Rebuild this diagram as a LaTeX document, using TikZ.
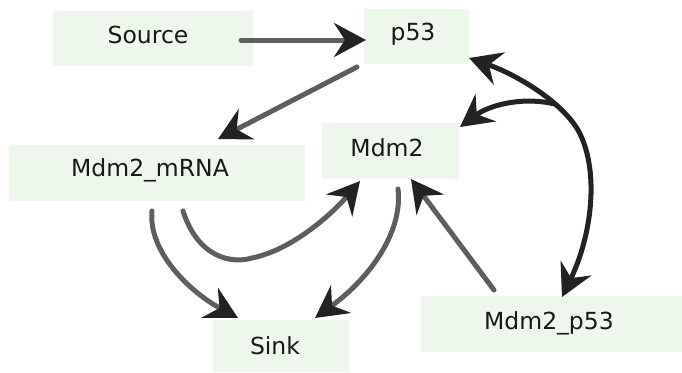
\documentclass[tikz,border=0pt]{standalone}
\usepackage{fontspec}
\setmainfont{DejaVu Sans}
\usetikzlibrary{arrows.meta}
\definecolor{boxfill}{HTML}{EEF7EC}
\definecolor{edgegray}{HTML}{5E5E5E}
\definecolor{tipdark}{HTML}{222222}
\begin{document}
\begin{tikzpicture}[x=1pt,y=-1pt,
  box/.style={fill=boxfill,draw=none,inner sep=0pt},
  lbl/.style={font=\fontsize{23.5}{28}\selectfont,text=black!90,inner sep=0pt},
  edge/.style={draw=edgegray,line width=5pt,line cap=round,
    -{Stealth[length=32pt,width=34pt,inset=11pt,color=tipdark]}},
  rxn/.style={draw=tipdark,line width=5pt,line cap=round}]
\useasboundingbox (0,0) rectangle (682,372);
% boxes
\node[box,minimum width=200pt,minimum height=55pt] (srcbox) at (153,38) {};
\node[box,minimum width=105pt,minimum height=55pt] (p53box) at (416.5,36) {};
\node[box,minimum width=296pt,minimum height=56pt] (mrnabox) at (157,173) {};
\node[box,minimum width=137pt,minimum height=56pt] (mdmbox) at (390.5,151) {};
\node[box,minimum width=136pt,minimum height=52pt] (sinkbox) at (281,346) {};
\node[box,minimum width=261pt,minimum height=56pt] (cplxbox) at (551.5,324) {};
% labels
\node[lbl] (src) at (148,35) {Source};
\node[lbl] (p53) at (413,34) {p53};
\node[lbl] (mrna) at (150,170) {Mdm2\_mRNA};
\node[lbl] (mdm) at (387,148) {Mdm2};
\node[lbl] (sink) at (275,346) {Sink};
\node[lbl] (cplx) at (549,323) {Mdm2\_p53};
% connector end points
\coordinate (srcout) at (241,40);
\coordinate (p53in) at (366,40);
\coordinate (p53out) at (357,67);
\coordinate (mrnain) at (218,139);
\coordinate (mrnaoutA) at (152,211);
\coordinate (mrnaoutB) at (183,211);
\coordinate (sinkinA) at (238,318);
\coordinate (sinkinB) at (315,318);
\coordinate (mdminA) at (360,181);
\coordinate (mdmoutA) at (398,189);
\coordinate (mdminB) at (411,179);
\coordinate (cplxout) at (494,290);
\coordinate (p53rx) at (469,58);
\coordinate (cplxin) at (562,297);
\coordinate (branch) at (555,104);
\coordinate (mdmrx) at (460,127);
% edges
\draw[edge] (srcout) -- (p53in);
\draw[edge] (p53out) -- (mrnain);
\draw[edge] (mrnaoutA) .. controls (148,252) and (190,292) .. (sinkinA);
\draw[edge] (mrnaoutB) .. controls (198,258) and (232,264) .. (252,258)
  .. controls (292,250) and (332,214) .. (mdminA);
\draw[edge] (mdmoutA) .. controls (403,232) and (370,278) .. (sinkinB);
\draw[edge] (cplxout) -- (mdminB);
\draw[rxn,{Stealth[length=32pt,width=34pt,inset=11pt]}-{Stealth[length=32pt,width=34pt,inset=11pt]}]
  (p53rx) .. controls (515,74) and (560,100) .. (578,130)
  .. controls (600,170) and (592,235) .. (cplxin);
\draw[rxn,-{Stealth[length=32pt,width=34pt,inset=11pt]}]
  (branch) .. controls (520,96) and (488,106) .. (mdmrx);
\end{tikzpicture}
\end{document}
